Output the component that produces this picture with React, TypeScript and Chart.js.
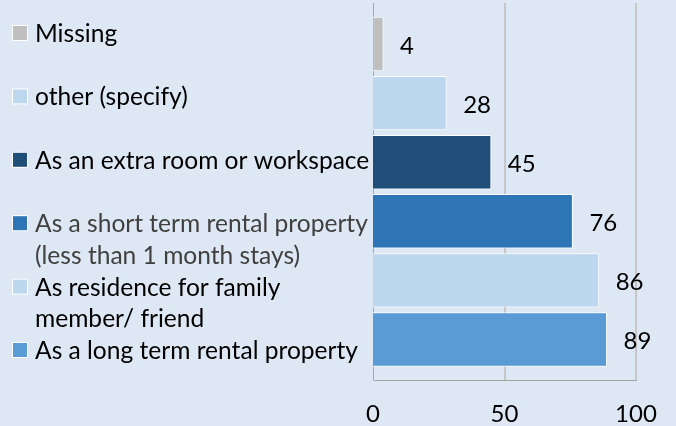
import React, { useEffect, useRef } from "react";
import { Chart, registerables } from "chart.js";

Chart.register(...registerables);

const categories: string[][] = [
  ["Missing"],
  ["other (specify)"],
  ["As an extra room or workspace"],
  ["As a short term rental property", "(less than 1 month stays)"],
  ["As residence for family", "member/ friend"],
  ["As a long term rental property"],
];
const values: number[] = [4, 28, 45, 76, 86, 89];
const barColors: string[] = ["#bfbfbf", "#bdd7ee", "#1f4e79", "#2e75b6", "#bdd7ee", "#5b9bd5"];
const labelColors: string[] = ["#000000", "#000000", "#000000", "#404040", "#000000", "#000000"];
const xTicks: number[] = [0, 50, 100];
// legend line slot index for each entry (Excel legend spacing)
const legendSlots: number[] = [0, 2, 4, 6, 8, 10];

const BG = "#dde8f4";
const FONT = "Lato, 'Open Sans', sans-serif";

const frame = {
  id: "frame",
  beforeDraw(chart: any) {
    const { ctx, width, height } = chart;
    ctx.save();
    ctx.fillStyle = BG;
    ctx.fillRect(0, 0, width, height);
    ctx.restore();
  },
  beforeDatasetsDraw(chart: any) {
    const { ctx, chartArea } = chart;
    const x = chart.scales.x;
    const top = chartArea.top - 11.5;
    const bottom = chartArea.bottom + 11;
    ctx.save();
    ctx.strokeStyle = "#c6c6c6";
    ctx.lineWidth = 2;
    xTicks.slice(1).forEach((v) => {
      const px = Math.round(x.getPixelForValue(v));
      ctx.beginPath();
      ctx.moveTo(px, top);
      ctx.lineTo(px, bottom);
      ctx.stroke();
    });
    ctx.strokeStyle = "#a6a6a6";
    ctx.lineWidth = 1;
    const x0 = Math.round(x.getPixelForValue(0)) + 0.5;
    const x1 = Math.round(x.getPixelForValue(100));
    ctx.beginPath();
    ctx.moveTo(x0, top);
    ctx.lineTo(x0, bottom);
    ctx.moveTo(x0, Math.round(bottom) + 0.5);
    ctx.lineTo(x1 + 1, Math.round(bottom) + 0.5);
    ctx.stroke();
    ctx.restore();
  },
  afterDatasetsDraw(chart: any) {
    const { ctx } = chart;
    const meta = chart.getDatasetMeta(0);
    ctx.save();
    ctx.font = `24px ${FONT}`;
    ctx.fillStyle = "#000";
    ctx.textAlign = "left";
    ctx.textBaseline = "middle";
    meta.data.forEach((bar: any, i: number) => {
      ctx.fillText(String(values[i]), bar.x + 16.5, bar.y + 2);
    });
    ctx.restore();
  },
  afterDraw(chart: any) {
    const { ctx } = chart;
    ctx.save();
    // fit font so the longest line matches the original legend width
    ctx.font = `26px ${FONT}`;
    const w = ctx.measureText("As a short term rental property").width;
    const size = Math.min(26, (26 * 333) / w);
    ctx.font = `${size}px ${FONT}`;
    ctx.textAlign = "left";
    ctx.textBaseline = "middle";
    const lineH = 31.7;
    const firstY = 33;
    categories.forEach((lines, i) => {
      const y0 = firstY + legendSlots[i] * lineH;
      ctx.fillStyle = "#ffffff";
      ctx.fillRect(12, y0 - 8, 16, 16);
      ctx.fillStyle = barColors[i];
      ctx.fillRect(13, y0 - 7, 14, 14);
      ctx.fillStyle = labelColors[i];
      lines.forEach((t, j) => {
        ctx.fillText(t, 35, y0 + j * lineH + 1);
      });
    });
    ctx.restore();
  },
};

export default function App() {
  const ref = useRef<HTMLCanvasElement>(null);
  useEffect(() => {
    document.body.style.margin = "0";
    const chart = new Chart(ref.current as HTMLCanvasElement, {
      type: "bar",
      data: {
        labels: categories.map((c) => c.join(" ")),
        datasets: [
          {
            data: values,
            backgroundColor: barColors,
            borderColor: "#ffffff",
            borderWidth: 1,
            barPercentage: 0.92,
            categoryPercentage: 1,
          },
        ],
      },
      options: {
        indexAxis: "y",
        animation: false,
        responsive: false,
        layout: { padding: { left: 373, right: 40, top: 14.5, bottom: 0 } },
        plugins: { legend: { display: false }, tooltip: { enabled: false } },
        scales: {
          x: {
            min: 0,
            max: 100,
            afterBuildTicks: (s: any) => {
              s.ticks = xTicks.map((v) => ({ value: v }));
            },
            afterFit: (s: any) => {
              s.height = 57;
              s.paddingLeft = 0;
              s.paddingRight = 0;
            },
            grid: { display: false, drawTicks: false },
            border: { display: false },
            ticks: {
              padding: 33,
              color: "#000",
              font: { family: FONT, size: 24, lineHeight: 1.0 },
            },
          },
          y: {
            display: false,
            offset: true,
          },
        },
      },
      plugins: [frame],
    });
    return () => chart.destroy();
  }, []);
  return <canvas ref={ref} width={676} height={426} style={{ display: "block" }} />;
}
